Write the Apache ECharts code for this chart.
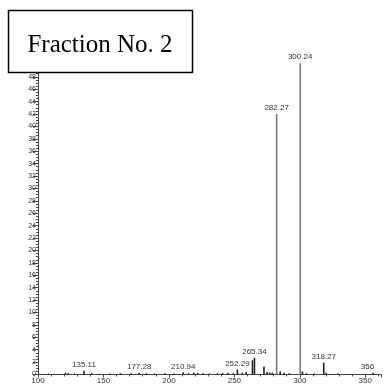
<!DOCTYPE html>
<html><head><meta charset="utf-8">
<script src="https://cdn.jsdelivr.net/npm/echarts@6/dist/echarts.min.js"></script>
<style>html,body{margin:0;padding:0;background:#fff}#c{width:384px;height:387px}</style>
</head><body><div id="c"></div>
<script>
var mz = [108,112,121,123,128,135.11,141,147,155,163,171,177.28,183,189,197,204,210.94,215,219,222,226,231,237,241,245,249,252.29,256,259,263.8,265.34,272.6,275,277,279,282.27,285,288,292,300.24,302,305,311,318.27,320,329,339,356];
var intensity = [0.15,0.1,0.3,0.2,0.15,0.6,0.2,0.1,0.15,0.2,0.2,0.25,0.2,0.15,0.2,0.15,0.35,0.2,0.3,0.25,0.2,0.15,0.2,0.25,0.3,0.2,0.8,0.3,0.4,2.3,2.7,1.3,0.4,0.3,0.3,42.0,0.5,0.3,0.2,50.2,0.5,0.2,0.15,1.9,0.3,0.15,0.1,0.3];
var labelMz = [135.11,177.28,210.94,252.29,265.34,282.27,300.24,318.27,356];
var labelText = ['135.11','177.28','210.94','252.29','265.34','282.27','300.24','318.27','356'];
var xTicks = [100,150,200,250,300,350];
var titleText = 'Fraction No. 2';

var data = mz.map(function(m,i){
  var item = {value:[m,intensity[i]], itemStyle:{color: intensity[i] > 10 ? '#7a7a7a' : '#222'}};
  var li = labelMz.indexOf(m);
  if (li >= 0) {
    item.label = {show:true, formatter: labelText[li]};
    if (labelText[li] === '356') { item.label.align = 'right'; item.label.offset = [1,0]; }
  }
  return item;
});

var chart = echarts.init(document.getElementById('c'));
chart.setOption({
  animation:false,
  grid:{left:38, right:-8, top:52, bottom:12.5, containLabel:false},
  xAxis:{type:'value', min:100, max:362, interval:50,
    axisLine:{lineStyle:{color:'#444', width:1}},
    axisTick:{length:3, lineStyle:{color:'#444'}},
    minorTick:{show:true, splitNumber:5, length:2, lineStyle:{color:'#444'}},
    splitLine:{show:false},
    axisLabel:{fontFamily:'Liberation Sans', fontSize:8, color:'#333', margin:2,
      formatter:function(v){return xTicks.indexOf(v)>=0 ? String(v) : '';}}
  },
  yAxis:{type:'value', min:0, max:52, interval:2,
    axisLine:{show:true, lineStyle:{color:'#444', width:1}},
    axisTick:{show:true, length:5, lineStyle:{color:'#444'}},
    minorTick:{show:true, splitNumber:4, length:2, lineStyle:{color:'#444'}},
    splitLine:{show:false},
    axisLabel:{fontFamily:'Liberation Sans', fontSize:7, color:'#333', margin:2}
  },
  series:[{type:'bar', data:data, barWidth:1.6,
    label:{show:false, position:'top', distance:2, fontFamily:'Liberation Sans', fontSize:8, color:'#333'}}],
  graphic:[
    {type:'rect', z:100, shape:{x:8.5, y:10.5, width:184, height:62}, style:{fill:'#fff', stroke:'#000', lineWidth:1.5}},
    {type:'text', z:101, x:100, y:45, style:{text:titleText, font:'25px "Liberation Serif"', fill:'#000', align:'center', verticalAlign:'middle'}}
  ]
});
</script></body></html>
